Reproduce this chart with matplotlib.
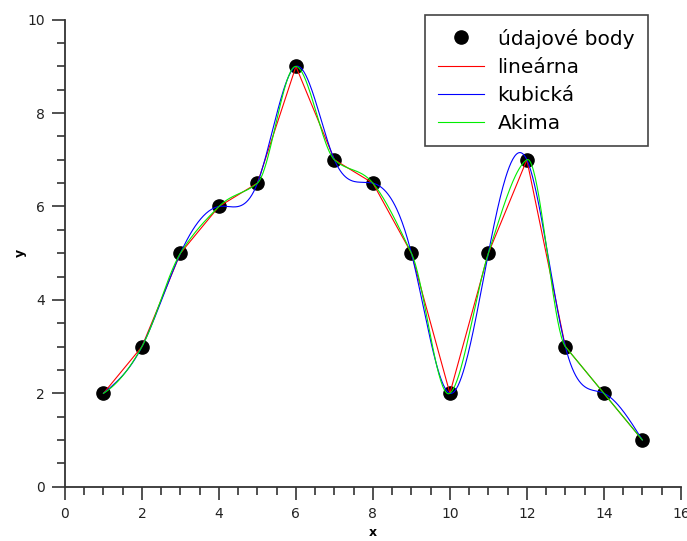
import numpy as np
import matplotlib
matplotlib.use("Agg")
import matplotlib.pyplot as plt
from matplotlib.ticker import MultipleLocator

# data points
x_data = [1, 2, 3, 4, 5, 6, 7, 8, 9, 10, 11, 12, 13, 14, 15]
y_data = [2, 3, 5, 6, 6.5, 9, 7, 6.5, 5, 2, 5, 7, 3, 2, 1]

labels = ["údajové body", "lineárna", "kubická", "Akima"]


def natural_spline(x, y, xs):
    x = np.asarray(x, float)
    y = np.asarray(y, float)
    n = len(x)
    h = np.diff(x)
    A = np.zeros((n, n))
    b = np.zeros(n)
    A[0, 0] = 1
    A[-1, -1] = 1
    for i in range(1, n - 1):
        A[i, i - 1] = h[i - 1]
        A[i, i] = 2 * (h[i - 1] + h[i])
        A[i, i + 1] = h[i]
        b[i] = 6 * ((y[i + 1] - y[i]) / h[i] - (y[i] - y[i - 1]) / h[i - 1])
    M = np.linalg.solve(A, b)
    idx = np.clip(np.searchsorted(x, xs) - 1, 0, n - 2)
    x0, x1 = x[idx], x[idx + 1]
    hh = x1 - x0
    a = (x1 - xs) / hh
    c = (xs - x0) / hh
    return (a * y[idx] + c * y[idx + 1]
            + ((a ** 3 - a) * M[idx] + (c ** 3 - c) * M[idx + 1]) * hh ** 2 / 6)


def akima(x, y, xs):
    x = np.asarray(x, float)
    y = np.asarray(y, float)
    n = len(x)
    m = np.diff(y) / np.diff(x)
    mm = np.concatenate([[3 * m[0] - 2 * m[1], 2 * m[0] - m[1]], m,
                         [2 * m[-1] - m[-2], 3 * m[-1] - 2 * m[-2]]])
    t = np.zeros(n)
    for i in range(n):
        w1 = abs(mm[i + 3] - mm[i + 2])
        w2 = abs(mm[i + 1] - mm[i])
        if w1 + w2 == 0:
            t[i] = 0.5 * (mm[i + 1] + mm[i + 2])
        else:
            t[i] = (w1 * mm[i + 1] + w2 * mm[i + 2]) / (w1 + w2)
    idx = np.clip(np.searchsorted(x, xs) - 1, 0, n - 2)
    h = x[idx + 1] - x[idx]
    s = (xs - x[idx]) / h
    h00 = 2 * s ** 3 - 3 * s ** 2 + 1
    h10 = s ** 3 - 2 * s ** 2 + s
    h01 = -2 * s ** 3 + 3 * s ** 2
    h11 = s ** 3 - s ** 2
    return h00 * y[idx] + h10 * h * t[idx] + h01 * y[idx + 1] + h11 * h * t[idx + 1]


xs = np.linspace(x_data[0], x_data[-1], 600)

fig = plt.figure(figsize=(6.87, 5.41), dpi=100)
ax = fig.add_axes([0.0946, 0.1004, 0.8964, 0.8632])

ax.plot(x_data, y_data, "o", color="black", markersize=9.5, label=labels[0], zorder=2)
ax.plot(x_data, y_data, color="#ff0000", lw=0.8, label=labels[1], zorder=3)
ax.plot(xs, natural_spline(x_data, y_data, xs), color="#0000ff", lw=0.8, label=labels[2], zorder=3)
ax.plot(xs, akima(x_data, y_data, xs), color="#00ee00", lw=0.8, label=labels[3], zorder=4)

ax.set_xlim(0, 16)
ax.set_ylim(0, 10)
ax.xaxis.set_major_locator(MultipleLocator(2))
ax.xaxis.set_minor_locator(MultipleLocator(0.5))
ax.yaxis.set_major_locator(MultipleLocator(2))
ax.yaxis.set_minor_locator(MultipleLocator(0.5))

for side in ["top", "right"]:
    ax.spines[side].set_visible(False)
for side in ["left", "bottom"]:
    ax.spines[side].set_linewidth(1.3)
    ax.spines[side].set_color("#333333")

ax.tick_params(which="major", direction="out", length=9.5, width=1.2, color="#333333",
               labelsize=10, labelcolor="#222222", pad=5)
ax.tick_params(which="minor", direction="out", length=5.5, width=1.2, color="#333333")

ax.set_xlabel("x", fontsize=9, fontweight="bold", labelpad=4)
ax.set_ylabel("y", fontsize=9, fontweight="bold", labelpad=0)

leg = ax.legend(loc="upper right", bbox_to_anchor=(0.946, 1.01), fontsize=14.5,
                fancybox=False, framealpha=1, edgecolor="#444444",
                handlelength=2.3, labelspacing=0.45, borderpad=0.67,
                borderaxespad=0, handletextpad=0.65)
leg.get_frame().set_linewidth(1.2)

fig.savefig("out.png", dpi=100)
